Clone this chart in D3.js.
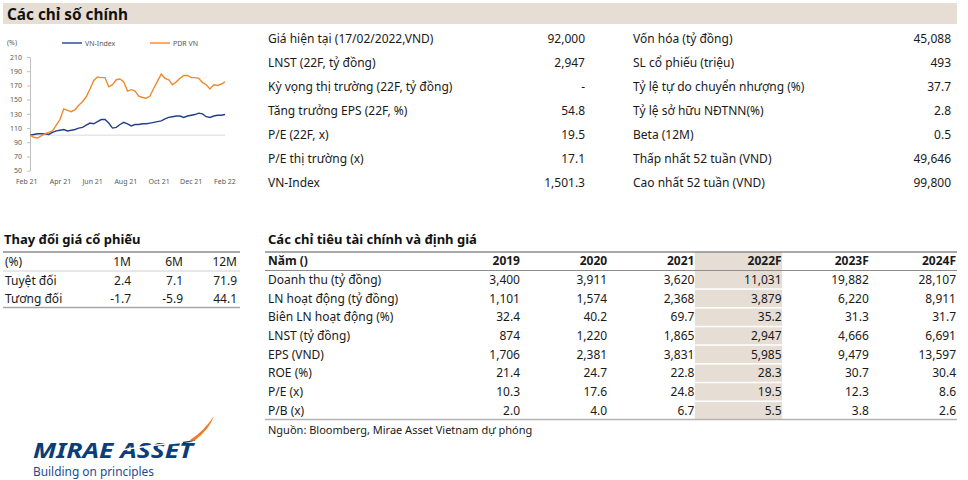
<!DOCTYPE html>
<html>
<head>
<meta charset="utf-8">
<script src="https://cdn.jsdelivr.net/npm/d3@7"></script>
<style>
  body { margin: 0; background: #fff; }
  text { font-family: "Noto Sans", sans-serif; }
</style>
</head>
<body>
<div id="page"></div>
<script>
// ---- data ----
var vnIndex = [100, 101, 102, 102, 102, 101, 104, 106, 107, 108, 106, 107, 108, 110, 111, 114, 117, 116, 119, 122, 122, 117, 110, 111, 115, 118, 116, 113, 115, 115, 116, 116, 117, 118, 119, 120, 123, 125, 126, 127, 127, 125, 127, 128, 129, 131, 130, 126, 125, 127, 128, 128, 129];
var pdrVN = [100, 97, 96, 99, 102, 104, 106, 114, 122, 137, 135, 133, 136, 142, 147, 154, 165, 177, 182, 181, 181, 168, 171, 178, 179, 175, 162, 164, 162, 155, 153, 152, 155, 166, 176, 186, 180, 178, 171, 175, 180, 184, 184, 181, 181, 180, 174, 171, 165, 171, 170, 172, 175];
var seriesNames = ["VN-Index", "PDR VN"];
var yTicks = [50, 70, 90, 110, 130, 150, 170, 190, 210];
var xTickDates = ["2021-02-10", "2021-04-14", "2021-06-13", "2021-08-14", "2021-10-15", "2021-12-14", "2022-02-15"];
var xTickLabels = ["Feb 21", "Apr 21", "Jun 21", "Aug 21", "Oct 21", "Dec 21", "Feb 22"];

var keyLabelsL = ["Giá hiện tại (17/02/2022,VND)", "LNST (22F, tỷ đồng)", "Kỳ vọng thị trường (22F, tỷ đồng)", "Tăng trưởng EPS (22F, %)", "P/E (22F, x)", "P/E thị trường (x)", "VN-Index"];
var keyValuesL = ["92,000", "2,947", "-", "54.8", "19.5", "17.1", "1,501.3"];
var keyLabelsR = ["Vốn hóa (tỷ đồng)", "SL cổ phiếu (triệu)", "Tỷ lệ tự do chuyển nhượng (%)", "Tỷ lệ sở hữu NĐTNN(%)", "Beta (12M)", "Thấp nhất 52 tuần (VND)", "Cao nhất 52 tuần (VND)"];
var keyValuesR = ["45,088", "493", "37.7", "2.8", "0.5", "49,646", "99,800"];

var perfHeader = ["1M", "6M", "12M"];
var perfRows = ["Tuyệt đối", "Tương đối"];
var perfValues = [["2.4", "7.1", "71.9"], ["-1.7", "-5.9", "44.1"]];

var finYears = ["2019", "2020", "2021", "2022F", "2023F", "2024F"];
var finRows = ["Doanh thu (tỷ đồng)", "LN hoạt động (tỷ đồng)", "Biên LN hoạt động (%)", "LNST (tỷ đồng)", "EPS (VND)", "ROE (%)", "P/E (x)", "P/B (x)"];
var finValues = [
  ["3,400", "3,911", "3,620", "11,031", "19,882", "28,107"],
  ["1,101", "1,574", "2,368", "3,879", "6,220", "8,911"],
  ["32.4", "40.2", "69.7", "35.2", "31.3", "31.7"],
  ["874", "1,220", "1,865", "2,947", "4,666", "6,691"],
  ["1,706", "2,381", "3,831", "5,985", "9,479", "13,597"],
  ["21.4", "24.7", "22.8", "28.3", "30.7", "30.4"],
  ["10.3", "17.6", "24.8", "19.5", "12.3", "8.6"],
  ["2.0", "4.0", "6.7", "5.5", "3.8", "2.6"]
];

var beige = "#e6ded5";
var navy = "#0b3d78";

var svg = d3.select("#page").append("svg")
  .attr("width", 968)
  .attr("height", 480);

// ---- header band ----
svg.append("rect")
  .attr("x", 3).attr("y", 3)
  .attr("width", 954).attr("height", 21)
  .attr("fill", beige);

svg.append("text")
  .attr("x", 7).attr("y", 19.5)
  .attr("font-size", 16)
  .attr("font-weight", "bold")
  .attr("textLength", 121)
  .attr("lengthAdjust", "spacingAndGlyphs")
  .attr("fill", "#111")
  .text("Các chỉ số chính");

// ---- small line chart ----
var startDate = new Date(2021, 1, 17);
var dates = vnIndex.map((d, i) => d3.timeDay.offset(startDate, i * 7));

var xScale = d3.scaleTime()
  .domain([startDate, dates[dates.length - 1]])
  .range([30, 225]);

var yScale = d3.scaleLinear()
  .domain([50, 210])
  .range([170.7, 57]);

var chart = svg.append("g").attr("class", "mini-chart");

var yAxis = chart.append("g")
  .attr("transform", "translate(30,0)")
  .call(d3.axisLeft(yScale).tickValues(yTicks).tickSize(3).tickPadding(5).tickSizeOuter(0));
yAxis.select(".domain").attr("stroke", "#bfbfbf");
yAxis.selectAll(".tick line").attr("stroke", "#bfbfbf");
yAxis.selectAll("text").attr("font-size", 7).attr("fill", "#595959").attr("font-family", "Noto Sans");

var parseDay = d3.timeParse("%Y-%m-%d");
var xAxis = chart.append("g")
  .attr("transform", "translate(0,173)")
  .call(d3.axisBottom(xScale)
    .tickValues(xTickDates.map(parseDay))
    .tickFormat((d, i) => xTickLabels[i])
    .tickSize(0).tickPadding(6));
xAxis.select(".domain").remove();
xAxis.selectAll("text").attr("font-size", 7).attr("fill", "#595959").attr("font-family", "Noto Sans");

// baseline at 100
chart.append("line")
  .attr("x1", xScale.range()[0]).attr("x2", xScale.range()[1])
  .attr("y1", yScale(100)).attr("y2", yScale(100))
  .attr("stroke", "#d9d9d9")
  .attr("stroke-width", 1);

var line = d3.line()
  .x((d, i) => xScale(dates[i]))
  .y(d => yScale(d));

chart.append("path")
  .datum(vnIndex)
  .attr("d", line)
  .attr("fill", "none")
  .attr("stroke", "#22408a")
  .attr("stroke-width", 1.4);

chart.append("path")
  .datum(pdrVN)
  .attr("d", line)
  .attr("fill", "none")
  .attr("stroke", "#f08a2e")
  .attr("stroke-width", 1.4);

// legend
chart.append("text")
  .attr("x", 7).attr("y", 45)
  .attr("font-size", 7).attr("fill", "#595959")
  .text("(%)");

var legend = chart.selectAll(".legend")
  .data(seriesNames)
  .enter()
  .append("g")
  .attr("transform", (d, i) => `translate(${62 + i * 88}, 43)`);

legend.append("line")
  .attr("x1", 0).attr("x2", 20)
  .attr("stroke", (d, i) => i === 0 ? "#22408a" : "#f08a2e")
  .attr("stroke-width", 1.4);

legend.append("text")
  .attr("x", 23).attr("y", 2.5)
  .attr("font-size", 7).attr("fill", "#595959")
  .text(d => d);

// ---- key stats ----
var keyRowY = d3.scalePoint()
  .domain(d3.range(keyLabelsL.length))
  .range([39, 183]);

function keyBlock(labels, values, xLabel, xValue) {
  var g = svg.append("g");
  g.selectAll(".lab")
    .data(labels)
    .enter()
    .append("text")
    .attr("x", xLabel)
    .attr("y", (d, i) => keyRowY(i))
    .attr("dy", "0.35em")
    .attr("font-size", 12)
    .attr("fill", "#1a1a1a")
    .text(d => d);
  g.selectAll(".val")
    .data(values)
    .enter()
    .append("text")
    .attr("x", xValue)
    .attr("y", (d, i) => keyRowY(i))
    .attr("dy", "0.35em")
    .attr("text-anchor", "end")
    .attr("font-size", 12)
    .attr("fill", "#1a1a1a")
    .text(d => d);
}
keyBlock(keyLabelsL, keyValuesL, 268, 585);
keyBlock(keyLabelsR, keyValuesR, 633, 951);

// ---- price change table ----
var perf = svg.append("g");
perf.append("text")
  .attr("x", 4).attr("y", 244)
  .attr("font-size", 13).attr("font-weight", "bold").attr("fill", "#111")
  .text("Thay đổi giá cổ phiếu");

var perfX = d3.scaleOrdinal().domain(perfHeader).range([131, 183, 237]);
var perfY = d3.scalePoint().domain(["(%)"].concat(perfRows)).range([262, 299]);

perf.append("line").attr("x1", 3).attr("x2", 240).attr("y1", 252).attr("y2", 252)
  .attr("stroke", "#8c8c8c").attr("stroke-width", 1.5);
perf.append("line").attr("x1", 3).attr("x2", 240).attr("y1", 271).attr("y2", 271)
  .attr("stroke", "#d0d0d0").attr("stroke-width", 1);
perf.append("line").attr("x1", 3).attr("x2", 240).attr("y1", 307.5).attr("y2", 307.5)
  .attr("stroke", "#a6a6a6").attr("stroke-width", 1.5);

perf.selectAll(".rowlab")
  .data(perfY.domain())
  .enter()
  .append("text")
  .attr("x", 5)
  .attr("y", d => perfY(d))
  .attr("dy", "0.35em")
  .attr("font-size", 12).attr("fill", "#1a1a1a")
  .text(d => d);

perf.selectAll(".head")
  .data(perfHeader)
  .enter()
  .append("text")
  .attr("x", d => perfX(d))
  .attr("y", perfY("(%)"))
  .attr("dy", "0.35em")
  .attr("text-anchor", "end")
  .attr("font-size", 12).attr("fill", "#1a1a1a")
  .text(d => d);

perfRows.forEach(function(r, ri) {
  perf.selectAll(".v" + ri)
    .data(perfValues[ri])
    .enter()
    .append("text")
    .attr("x", (d, i) => perfX(perfHeader[i]))
    .attr("y", perfY(r))
    .attr("dy", "0.35em")
    .attr("text-anchor", "end")
    .attr("font-size", 12).attr("fill", "#1a1a1a")
    .text(d => d);
});

// ---- financial table ----
var fin = svg.append("g");
fin.append("text")
  .attr("x", 268).attr("y", 244)
  .attr("font-size", 13).attr("font-weight", "bold").attr("fill", "#111")
  .text("Các chỉ tiêu tài chính và định giá");

var colX = d3.scalePoint().domain(finYears).range([520, 956]);
var rowY = d3.scalePoint().domain(["Năm ()"].concat(finRows)).range([261, 410.5]);
var rowStep = rowY.step();

// shaded forecast column
fin.append("rect")
  .attr("x", colX("2022F") - colX.step() + 0.5)
  .attr("y", 252)
  .attr("width", colX.step())
  .attr("height", 167)
  .attr("fill", beige);

fin.selectAll(".sep")
  .data(finRows.slice(1))
  .enter()
  .append("line")
  .attr("x1", colX("2022F") - colX.step() + 0.5)
  .attr("x2", colX("2022F") + 0.5)
  .attr("y1", d => rowY(d) - rowStep / 2)
  .attr("y2", d => rowY(d) - rowStep / 2)
  .attr("stroke", "#fff")
  .attr("stroke-width", 1.5);

fin.append("line").attr("x1", 265).attr("x2", 957).attr("y1", 252).attr("y2", 252)
  .attr("stroke", "#8c8c8c").attr("stroke-width", 1.5);
fin.append("line").attr("x1", 265).attr("x2", 957).attr("y1", 270.5).attr("y2", 270.5)
  .attr("stroke", "#8c8c8c").attr("stroke-width", 1);
fin.append("line").attr("x1", 265).attr("x2", 957).attr("y1", 419.5).attr("y2", 419.5)
  .attr("stroke", "#b3b3b3").attr("stroke-width", 1.5);

fin.selectAll(".rowlab")
  .data(rowY.domain())
  .enter()
  .append("text")
  .attr("x", 268)
  .attr("y", d => rowY(d))
  .attr("dy", "0.35em")
  .attr("font-size", 12)
  .attr("font-weight", (d, i) => i === 0 ? "bold" : "normal")
  .attr("fill", "#1a1a1a")
  .text(d => d);

fin.selectAll(".year")
  .data(finYears)
  .enter()
  .append("text")
  .attr("x", d => colX(d))
  .attr("y", rowY("Năm ()"))
  .attr("dy", "0.35em")
  .attr("text-anchor", "end")
  .attr("font-size", 12).attr("font-weight", "bold").attr("fill", "#1a1a1a")
  .text(d => d);

finRows.forEach(function(r, ri) {
  fin.selectAll(".fv" + ri)
    .data(finValues[ri])
    .enter()
    .append("text")
    .attr("x", (d, i) => colX(finYears[i]))
    .attr("y", rowY(r))
    .attr("dy", "0.35em")
    .attr("text-anchor", "end")
    .attr("font-size", 12).attr("fill", "#1a1a1a")
    .text(d => d);
});

fin.append("text")
  .attr("x", 268).attr("y", 434)
  .attr("font-size", 11).attr("fill", "#1a1a1a")
  .text("Nguồn: Bloomberg, Mirae Asset Vietnam dự phóng");

// ---- logo ----
var logo = svg.append("g");
logo.append("text")
  .attr("x", 33).attr("y", 458)
  .attr("font-family", "Liberation Sans")
  .attr("font-size", 21)
  .attr("font-weight", "bold")
  .attr("font-style", "italic")
  .attr("textLength", 160)
  .attr("lengthAdjust", "spacingAndGlyphs")
  .attr("fill", navy)
  .text("MIRAE ASSET");
logo.append("path")
  .attr("d", "M116,451 Q150,445 186,442")
  .attr("fill", "none").attr("stroke", "#fff").attr("stroke-width", 1.3);
logo.append("path")
  .attr("d", "M183,442.5 Q189,442 195,440")
  .attr("fill", "none").attr("stroke", navy).attr("stroke-width", 1.3);
logo.append("path")
  .attr("d", "M190,440 Q204,431 214,416 Q209,430 194,441 Z")
  .attr("fill", "#f47b20");
logo.append("text")
  .attr("x", 33).attr("y", 476)
  .attr("font-size", 12.5)
  .attr("textLength", 121)
  .attr("lengthAdjust", "spacingAndGlyphs")
  .attr("fill", "#1d4b8f")
  .text("Building on principles");
</script>
</body>
</html>
